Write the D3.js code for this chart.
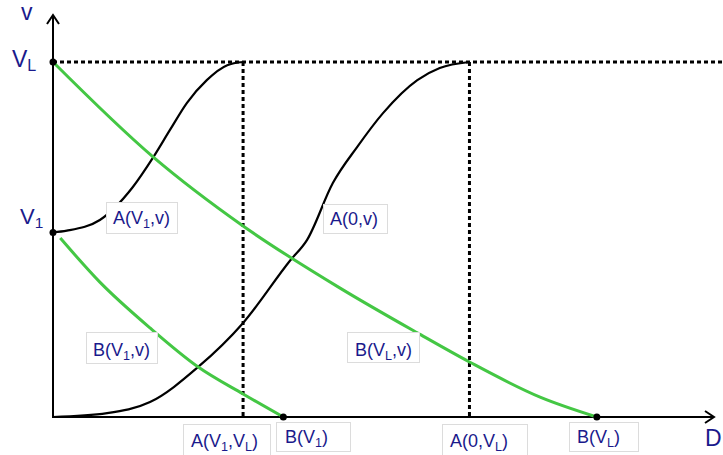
<!DOCTYPE html>
<html><head><meta charset="utf-8">
<script src="https://cdn.jsdelivr.net/npm/d3@7"></script>
<style>body{margin:0;background:#fff}svg{display:block}text{font-family:"Liberation Sans",Arial,sans-serif}</style>
</head><body><svg id="c" width="723" height="455"></svg>
<script>
// Values (D on horizontal axis, v on vertical axis; V_L = 1)
const VL = 1.0;
const V1 = 0.52;
const A_V1_VL = 2.88;   // D where A(V1,v) reaches V_L
const A_0_VL = 6.31;    // D where A(0,v) reaches V_L
const B_V1 = 3.49;
const B_VL = 8.24;

const curveA_V1 = [[0,0.52],[0.21,0.525],[0.71,0.555],[1.21,0.648],[1.52,0.732],[1.77,0.808],[2.03,0.885],[2.33,0.949],[2.64,0.991],[2.88,1.0]];
const curveA_0 = [[0,0],[0.82,0.011],[1.47,0.042],[2.20,0.141],[2.88,0.265],[3.59,0.440],[3.85,0.499],[4.24,0.659],[4.61,0.761],[5.0,0.856],[5.52,0.949],[5.86,0.983],[6.31,1.0]];
const curveB_VL = [[0,1],[1.52,0.732],[2.88,0.538],[4.35,0.363],[5.52,0.237],[6.31,0.155],[7.38,0.056],[8.24,0]];
const curveB_V1 = [[0.11,0.504],[0.71,0.380],[1.47,0.251],[2.20,0.141],[2.88,0.065],[3.49,0]];

const svg = d3.select("#c");
const x = d3.scaleLinear().domain([0,10]).range([53,713]);
const y = d3.scaleLinear().domain([0,1]).range([417,62]);
const navy = "#1a1a8c", green = "#44c744";

// dotted guides
const dot = {stroke:"#000","stroke-width":3,"stroke-dasharray":"4,3"};
function dline(x1,y1,x2,y2){const l=svg.append("line").attr("x1",x1).attr("y1",y1).attr("x2",x2).attr("y2",y2);for(const k in dot)l.attr(k,dot[k]);}
dline(x(0),y(VL),723,y(VL));
dline(x(A_V1_VL),y(VL),x(A_V1_VL),y(0));
dline(x(A_0_VL),y(VL),x(A_0_VL),y(0));

// axes
svg.append("line").attr("x1",x(0)).attr("y1",y(0)).attr("x2",713).attr("y2",y(0)).attr("stroke","#000").attr("stroke-width",2);
svg.append("line").attr("x1",x(0)).attr("y1",y(0)+1).attr("x2",x(0)).attr("y2",16).attr("stroke","#000").attr("stroke-width",2);
svg.append("path").attr("d",`M705,${y(0)-6}L714,${y(0)}L705,${y(0)+6}`).attr("fill","none").attr("stroke","#000").attr("stroke-width",2);
svg.append("path").attr("d",`M${x(0)-6},24L${x(0)},15L${x(0)+6},24`).attr("fill","none").attr("stroke","#000").attr("stroke-width",2);

const line = d3.line().x(d=>x(d[0])).y(d=>y(d[1])).curve(d3.curveMonotoneX);
svg.append("path").attr("d",line(curveA_V1)).attr("fill","none").attr("stroke","#000").attr("stroke-width",2.2);
svg.append("path").attr("d",line(curveA_0)).attr("fill","none").attr("stroke","#000").attr("stroke-width",2.2);
svg.append("path").attr("d",line(curveB_VL)).attr("fill","none").attr("stroke",green).attr("stroke-width",3);
svg.append("path").attr("d",line(curveB_V1)).attr("fill","none").attr("stroke",green).attr("stroke-width",3);

// dots
[[0,VL],[0,V1],[B_V1,0],[B_VL,0]].forEach(d=>svg.append("circle").attr("cx",x(d[0])).attr("cy",y(d[1])).attr("r",3.5).attr("fill","#000"));

// labels: parts = [[text, isSub]]
function label(parts, tx, ty, size, box){
  if(box){svg.append("rect").attr("x",box[0]+0.5).attr("y",box[1]+0.5).attr("width",box[2]).attr("height",box[3]).attr("fill","#fff").attr("stroke","#dcdcdc").attr("stroke-width",1);}
  const t = svg.append("text").attr("x",tx).attr("y",ty).attr("font-size",size).attr("fill",navy);
  parts.forEach(p=>{
    if(p[1]) t.append("tspan").attr("font-size",size*0.7).attr("dy",4).text(p[0]);
    else t.append("tspan").attr("dy",p[2]||0).text(p[0]);
  });
  return t;
}
function sub(s){return [s,true];}
label([["A(V"],sub("1"),[",v)",false,-4]],113,224,18,[106,202,71,31]);
label([["A(0,v)"]],330,225,18,[323,204,64,29]);
label([["B(V"],sub("1"),[",v)",false,-4]],93,356,18,[86,332,71,31]);
label([["B(V"],sub("L"),[",v)",false,-4]],355,356,18,[347,332,72,30]);
label([["A(V"],sub("1"),[",V",false,-4],sub("L"),[")",false,-4]],191,447,18,[183,424,87,34]);
label([["B(V"],sub("1"),[")",false,-4]],285,443,18,[276,422,74,29]);
label([["A(0,V"],sub("L"),[")",false,-4]],450,447,18,[442,424,85,34]);
label([["B(V"],sub("L"),[")",false,-4]],577,443,18,[569,422,69,29]);

label([["V"],sub("L")],12,67,23,null);
label([["V"],sub("1")],20,224,22,null);
label([["v"]],21,20,23,null);
label([["D"]],705,446,23,null);
</script></body></html>
